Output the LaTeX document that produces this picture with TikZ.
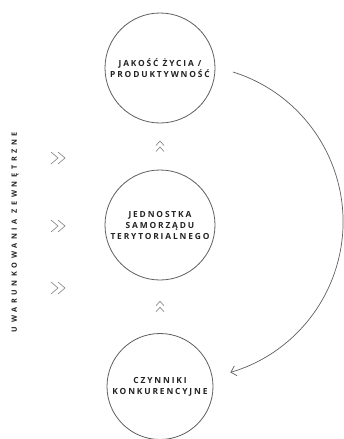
\documentclass[tikz,border=0pt]{standalone}
\usepackage{fontspec}
\newfontfamily\ringfont{Open Sans}[LetterSpace=22]
\newfontfamily\sidefont{Open Sans}[LetterSpace=50]
\usetikzlibrary{arrows.meta, calc}
\definecolor{ringgray}{RGB}{95,95,95}
\definecolor{textgray}{RGB}{35,35,35}
\definecolor{chevgray}{RGB}{130,130,130}

\tikzset{
	ring/.style={circle, draw=ringgray, line width=0.8pt, minimum size=110pt,
		inner sep=0pt, align=center, text=textgray,
		font=\ringfont\bfseries\fontsize{8.4}{11}\selectfont},
	chevup/.pic={
		\draw[chevgray, line width=0.6pt] (-4,-1)--(0,-5.5)--(4,-1) (-4,5)--(0,0.5)--(4,5);
	},
	chevright/.pic={
		\draw[chevgray, line width=0.6pt] (-7,-6)--(0,0)--(-7,6) (0,-6)--(7,0)--(0,6);
	}
}

\begin{document}
\begin{tikzpicture}[x=1pt, y=-1pt]
	\path[fill=white, use as bounding box] (0,0) rectangle (344,439);
	% circles
	\node[ring] (jakosc) at (160,68) {JAKOŚĆ ŻYCIA /\\PRODUKTYWNOŚĆ};
	\node[ring] (jednostka) at (160,225) {JEDNOSTKA\\SAMORZĄDU\\TERYTORIALNEGO};
	\node[ring, minimum size=106pt] (czynniki) at (160,386.5) {CZYNNIKI\\KONKURENCYJNE};
	% side label
	\node[rotate=90, text=textgray, font=\sidefont\bfseries\fontsize{7.3}{8}\selectfont] (uwar) at (15,232) {UWARUNKOWANIA ZEWNĘTRZNE};
	% chevrons
	\pic at ($(jakosc.south)!0.5!(jednostka.north)$) {chevup};
	\pic at ($(jednostka.south)!0.5!(czynniki.north)$) {chevup};
	\foreach \y in {158,226,288}
		\pic at (58,\y) {chevright};
	% feedback arc
	\coordinate (arcstart) at ($(jakosc.center)+(73,4)$);
	\draw[ringgray, line width=0.7pt, -{Straight Barb[length=5pt,width=10pt]}]
		(arcstart) arc[start angle=-72.6, end angle=73.6, radius=157];
\end{tikzpicture}
\end{document}
